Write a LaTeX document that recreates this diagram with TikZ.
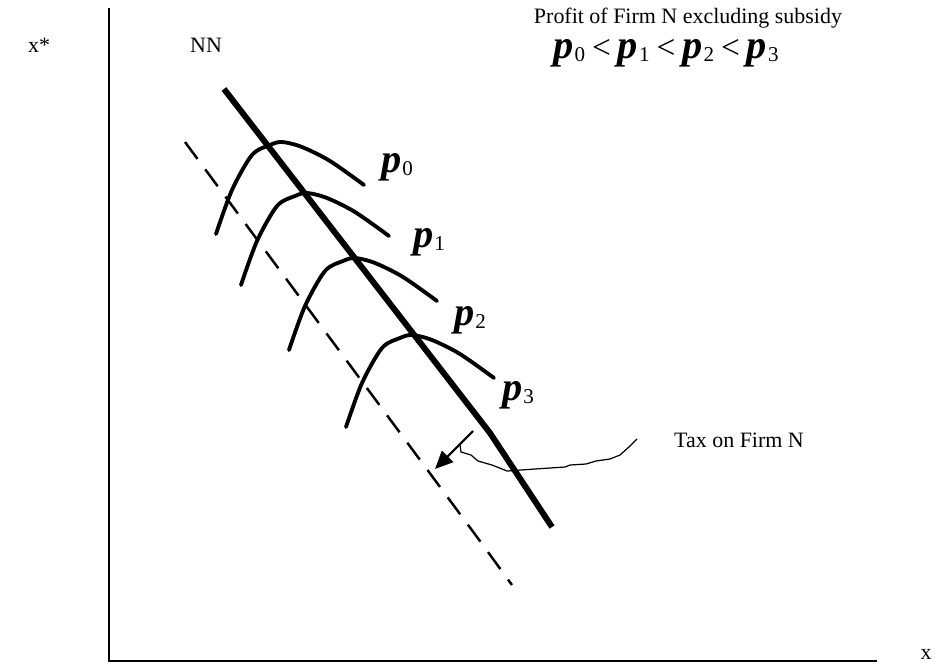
\documentclass[tikz,border=0pt]{standalone}
\usepackage{fontspec}
\setmainfont{Liberation Serif}
\usetikzlibrary{arrows.meta,calc,positioning}
\definecolor{rfInk}{HTML}{000000}
\newcommand{\pfv}[1]{{\fontsize{23}{25}\selectfont\bfseries\itshape p}\kern.5pt\raisebox{-.35ex}{\fontsize{12}{13}\selectfont #1}}
\newcommand{\pflt}{\hspace{4pt}{\fontsize{19}{20}\selectfont<}\hspace{4pt}}
\tikzset{
  rf axis/.style={draw=rfInk, line width=1.1pt},
  rf nn/.style={draw=rfInk, line width=3.4pt},
  rf tax/.style={draw=rfInk, line width=1.4pt, dash pattern=on 0.42cm off 0.26cm},
  rf iso/.style={draw=rfInk, line width=2.2pt, line cap=round, line join=round},
  rf shift/.style={draw=rfInk, line width=1.2pt, -{Triangle[length=3.6mm,width=3.2mm]}},
  rf wiggle/.style={draw=rfInk, line width=0.7pt},
  rf label/.style={font=\fontsize{12.5}{14}\selectfont, text=rfInk, inner sep=0pt},
  rf pi/.style={text=rfInk, inner sep=0pt}
}
\begin{document}
\begin{tikzpicture}[x=0.02cm,y=-0.02cm]
  \useasboundingbox[fill=white] (0,0) rectangle (935,666);
  % axes
  \coordinate (top) at (109,8);
  \coordinate (orig) at (109,661);
  \coordinate (xend) at (877,661);
  \draw[rf axis] (top) -- (orig) -- (xend);
  \node[rf label] (ylab) at (39,45) {x*};
  \node[rf label] (xlab) at (926,654) {x};
  \node[rf label] (nnlab) at (206,45) {NN};
  \node[rf label] (title) at (688,18) {Profit of Firm N excluding subsidy};
  \node[rf pi] (order) at (666,53) {\pfv{0}\pflt\pfv{1}\pflt\pfv{2}\pflt\pfv{3}};

  % reaction functions
  \coordinate (nnA) at (224,89);
  \coordinate (nnB) at (490,433);
  \coordinate (nnC) at (552,527);
  \draw[rf nn] (nnA) -- (nnB) -- (nnC);
  \coordinate (taxA) at (185,142);
  \coordinate (taxB) at (477,537);
  \coordinate (taxC) at (512,585);
  \draw[rf tax] (taxA) -- (taxB) -- (taxC);

  % iso-profit curves
  \foreach \px/\py/\k/\lx/\ly in {282/142/0/397/167, 307/193/1/429/242, 355/258/2/470/320, 412/335/3/518/395}{
    \draw[rf iso, shift={(\px,\py)}] plot[smooth, tension=0.5] coordinates
      {(-66,92) (-50,48) (-30,13) (-12,3) (0,0) (20,5) (48,19) (82,43)};
    \node[rf pi] (pi\k) at (\lx,\ly) {\pfv{\k}};
  }

  % tax shift
  \coordinate (arrA) at (473,431);
  \coordinate (arrB) at (435,469);
  \draw[rf shift] (arrA) -- (arrB);
  \node[rf label] (taxlab) at (739,440) {Tax on Firm N};
  \coordinate (wigA) at (460,445);
  \coordinate (wigB) at (637,439);
  \draw[rf wiggle] (wigA) -- (461,452) -- (471,455) -- (478,461) -- (492,465) -- (507,471)
    -- (535,469) -- (565,467) -- (570,465) -- (586,464) -- (596,461) -- (610,459)
    -- (620,455) -- (630,446) -- (wigB);
\end{tikzpicture}
\end{document}
